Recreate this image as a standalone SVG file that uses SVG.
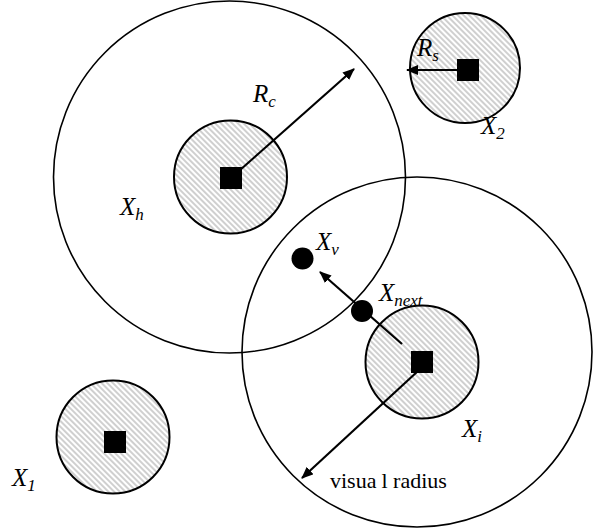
<svg xmlns="http://www.w3.org/2000/svg" width="597" height="528" viewBox="0 0 597 528">
<style>
.big{fill:none;stroke:#000;stroke-width:1.6}
.sm{fill:url(#hatch);stroke:#000;stroke-width:2}
.sq{fill:#000}
.dot{fill:#000}
.arr{stroke:#000;stroke-width:2.2;fill:none;marker-end:url(#ah)}
.lbl{font-family:"Liberation Serif","Times New Roman",serif;font-style:italic;font-size:25px;fill:#000}
.sub{font-size:17px}
.txt{font-family:"Liberation Serif","Times New Roman",serif;font-size:22px;fill:#000}
</style>
<defs>
<pattern id="hatch" width="4" height="4" patternUnits="userSpaceOnUse" patternTransform="rotate(-45)">
<rect width="4" height="4" fill="#fff"/>
<line x1="1" y1="0" x2="1" y2="4" stroke="#b0b0b0" stroke-width="1.2"/>
</pattern>
<marker id="ah" viewBox="0 0 12 10" refX="11" refY="5" markerWidth="12" markerHeight="10" markerUnits="userSpaceOnUse" orient="auto">
<path d="M0,0 L12,5 L0,10 Z" fill="#000"/>
</marker>
</defs>
<g id="Xh">
<circle class="big" cx="229.5" cy="177" r="176"/>
<circle class="sm" cx="230.5" cy="177" r="56.5"/>
<rect class="sq" x="220" y="167" width="22" height="22"/>
<text class="lbl" x="120" y="215">X<tspan class="sub" dy="5">h</tspan></text>
<text class="lbl" x="253" y="102">R<tspan class="sub" dy="5">c</tspan></text>
</g>
<g id="Xi">
<circle class="big" cx="417" cy="352" r="175"/>
<circle class="sm" cx="422" cy="362" r="56.5"/>
<rect class="sq" x="411" y="351" width="22" height="22"/>
<text class="lbl" x="462" y="437">X<tspan class="sub" dy="5">i</tspan></text>
</g>
<g id="X2">
<circle class="sm" cx="465" cy="68" r="55"/>
<rect class="sq" x="457" y="59" width="22" height="22"/>
<text class="lbl" x="417" y="56">R<tspan class="sub" dy="5">s</tspan></text>
<text class="lbl" x="481" y="134">X<tspan class="sub" dy="5">2</tspan></text>
</g>
<g id="X1">
<circle class="sm" cx="113" cy="437" r="56.5"/>
<rect class="sq" x="104" y="431" width="22" height="22"/>
<text class="lbl" x="12" y="486">X<tspan class="sub" dy="5">1</tspan></text>
</g>
<g id="connectors">
<line class="arr" x1="231" y1="178" x2="354" y2="69"/>
<line class="arr" x1="457" y1="70" x2="407" y2="70"/>
<line class="arr" x1="402" y1="344" x2="320" y2="272"/>
<line class="arr" x1="418" y1="371" x2="302" y2="478"/>
</g>
<g id="Xv">
<circle class="dot" cx="302.5" cy="258.5" r="11"/>
<text class="lbl" x="316" y="250">X<tspan class="sub" dy="5">v</tspan></text>
</g>
<g id="Xnext">
<circle class="dot" cx="362" cy="311" r="11"/>
<text class="lbl" x="379" y="301">X<tspan class="sub" dy="5">next</tspan></text>
</g>
<text class="txt" x="330" y="488">visua<tspan dx="5">l radius</tspan></text>
</svg>
